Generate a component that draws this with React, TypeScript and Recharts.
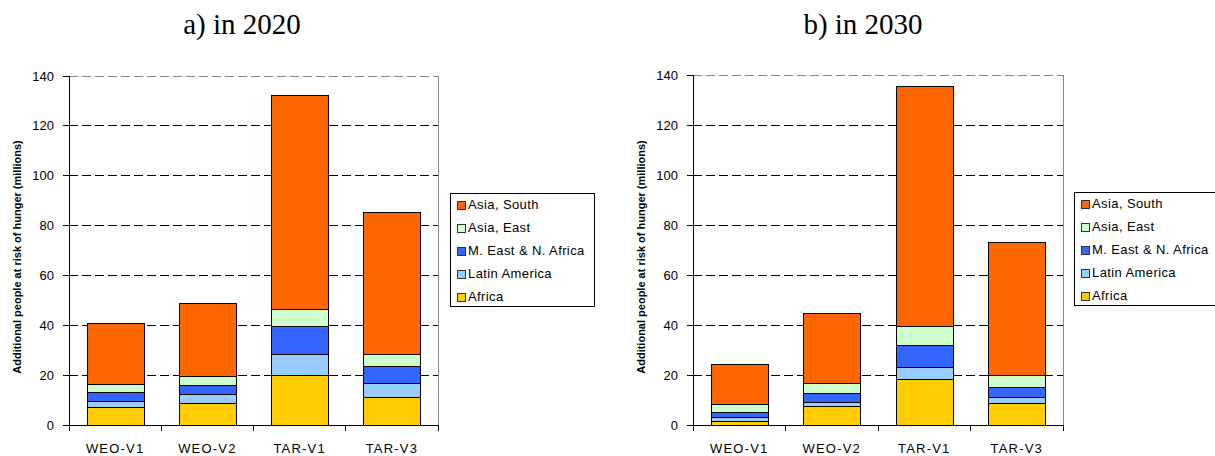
import React from 'react';
import { BarChart, Bar, XAxis, YAxis, CartesianGrid, ReferenceLine } from 'recharts';

const categories = ['WEO-V1', 'WEO-V2', 'TAR-V1', 'TAR-V3'];

// a) 2020, millions
const africa2020 = [7.0, 8.7, 20.0, 11.1];
const latin2020 = [2.6, 3.5, 8.2, 5.6];
const mena2020 = [3.5, 3.8, 11.2, 6.8];
const east2020 = [3.2, 3.6, 7.1, 4.7];
const south2020 = [24.5, 29.3, 85.8, 57.2];

// b) 2030, millions
const africa2030 = [1.6, 7.3, 18.2, 8.7];
const latin2030 = [1.3, 1.7, 4.8, 2.2];
const mena2030 = [2.0, 3.6, 8.9, 4.1];
const east2030 = [3.4, 4.0, 7.7, 5.0];
const south2030 = [15.9, 28.0, 95.9, 53.2];

const yTicks = [0, 20, 40, 60, 80, 100, 120, 140];

const SERIES = [
  { key: 'africa', name: 'Africa', color: '#FFCC00' },
  { key: 'latin', name: 'Latin America', color: '#99CCFF' },
  { key: 'mena', name: 'M. East & N. Africa', color: '#3366FF' },
  { key: 'east', name: 'Asia, East', color: '#CCFFCC' },
  { key: 'south', name: 'Asia, South', color: '#FF6600' },
];

const FONT = '"Liberation Sans", Arial, sans-serif';
const SERIF = '"Liberation Serif", "Times New Roman", serif';
const Y_LABEL = 'Additional people at risk of hunger (millions)';

function buildRows(a: number[], l: number[], m: number[], e: number[], s: number[]) {
  return categories.map((c, i) => ({ cat: c, africa: a[i], latin: l[i], mena: m[i], east: e[i], south: s[i] }));
}

const rows2020 = buildRows(africa2020, latin2020, mena2020, east2020, south2020);
const rows2030 = buildRows(africa2030, latin2030, mena2030, east2030, south2030);

const PLOT_BOTTOM = 425;

const makeTick = (bw: number) => (props: any) => {
  const { x, payload, index } = props;
  return (
    <g>
      <line x1={x - bw / 2} y1={PLOT_BOTTOM} x2={x - bw / 2} y2={PLOT_BOTTOM + 6} stroke="#000" />
      {index === categories.length - 1 && (
        <line x1={x + bw / 2} y1={PLOT_BOTTOM} x2={x + bw / 2} y2={PLOT_BOTTOM + 6} stroke="#000" />
      )}
      <text x={x} y={453} textAnchor="middle" fontSize={13} fontFamily={FONT} letterSpacing={1.2} fill="#000">
        {payload.value}
      </text>
    </g>
  );
};

interface PanelProps {
  rows: any[];
  left: number;
  width: number;
  margin: { top: number; right: number; bottom: number; left: number };
}

const Panel: React.FC<PanelProps> = ({ rows, left, width, margin }) => {
  const plotW = width - margin.left - 30 - margin.right;
  return (
    <div style={{ position: 'absolute', left, top: 0 }}>
      <BarChart width={width} height={456} data={rows} margin={margin}>
        <CartesianGrid vertical={false} stroke="#000" strokeDasharray="9 4" />
        <XAxis dataKey="cat" height={20} axisLine={{ stroke: '#000' }} tickLine={false}
          tick={makeTick(plotW / 4)} interval={0} />
        <YAxis width={30} domain={[0, 140]} ticks={yTicks} interval={0} tickSize={6} tickMargin={9}
          axisLine={{ stroke: '#000' }} tickLine={{ stroke: '#000' }}
          tick={{ fill: '#000', fontSize: 13, fontFamily: FONT }} />
        <ReferenceLine y={140} stroke="#888" strokeDasharray="9 4" />
        {SERIES.map(s => (
          <Bar key={s.key} dataKey={s.key} name={s.name} stackId="a" fill={s.color}
            stroke="#000" strokeWidth={1} barSize={57} isAnimationActive={false} />
        ))}
      </BarChart>
    </div>
  );
};

const Legend = ({ x, y }: { x: number; y: number }) => (
  <g>
    <rect x={x} y={y} width={144} height={113} fill="#fff" stroke="#000" />
    {[...SERIES].reverse().map((s, i) => (
      <g key={s.key}>
        <rect x={x + 7} y={y + 8 + i * 23} width={8} height={8} fill={s.color} stroke="#333" />
        <text x={x + 18} y={y + 16 + i * 23} fontSize={13} fontFamily={FONT} letterSpacing={0.4} fill="#000">
          {s.name}
        </text>
      </g>
    ))}
  </g>
);

export default function App() {
  return (
    <div style={{ position: 'absolute', left: 0, top: 0, width: 1215, height: 456, background: '#fff', overflow: 'hidden' }}>
      <style>{'.recharts-wrapper line, .recharts-wrapper rect, .recharts-wrapper path { shape-rendering: crispEdges; }'}</style>
      <Panel rows={rows2020} left={0} width={600} margin={{ top: 76, right: 162, bottom: 11, left: 39 }} />
      <Panel rows={rows2030} left={600} width={615} margin={{ top: 75, right: 152, bottom: 11, left: 63 }} />
      <svg width={1215} height={456} style={{ position: 'absolute', left: 0, top: 0, pointerEvents: 'none' }} shapeRendering="crispEdges">
        <text x={242} y={34} textAnchor="middle" fontSize={29} fontFamily={SERIF}>
          a) in 2020
        </text>
        <text x={863} y={34} textAnchor="middle" fontSize={29} fontFamily={SERIF}>
          b) in 2030
        </text>
        <text transform="translate(21,257) rotate(-90)" textAnchor="middle" fontSize={11} fontWeight="bold" fontFamily={FONT}>
          {Y_LABEL}
        </text>
        <text transform="translate(645,257) rotate(-90)" textAnchor="middle" fontSize={11} fontWeight="bold" fontFamily={FONT}>
          {Y_LABEL}
        </text>
        <line x1={438} y1={76} x2={438} y2={425} stroke="#888" />
        <line x1={1063} y1={75} x2={1063} y2={425} stroke="#888" />
        <Legend x={450} y={193} />
        <Legend x={1074} y={192} />
      </svg>
    </div>
  );
}
